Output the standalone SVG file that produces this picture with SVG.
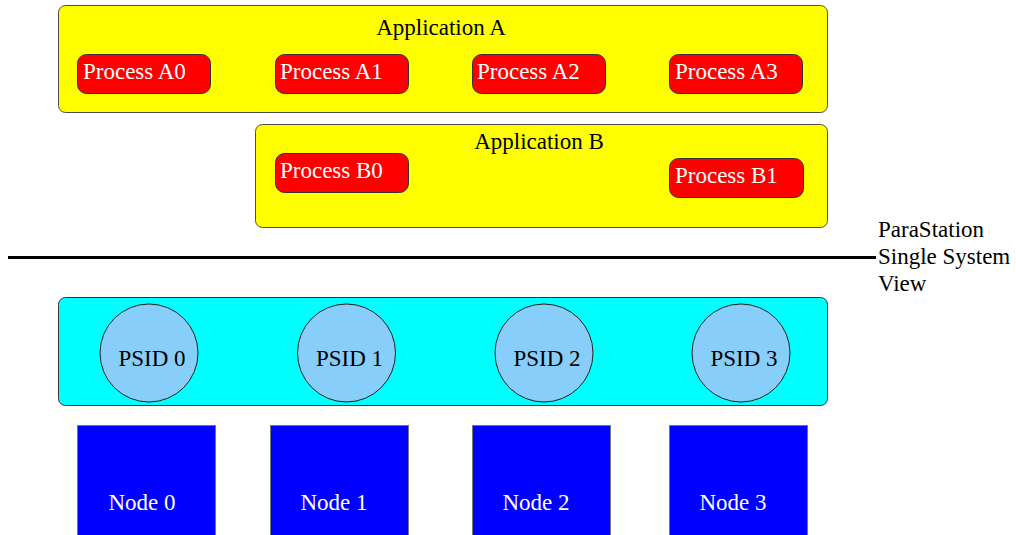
<svg xmlns="http://www.w3.org/2000/svg" width="1016" height="535" viewBox="0 0 1016 535">
<style>
text { font-family: "Liberation Serif", "Times New Roman", serif; font-size: 23px; }
.app { fill: #ffff00; stroke: #4d4d4d; stroke-width: 1; }
.proc { fill: #ff0000; stroke: #333333; stroke-width: 1; }
.proct { fill: #ffffff; }
.daemon { fill: #00ffff; stroke: #333333; stroke-width: 1; }
.psid { fill: #87cefa; stroke: #222222; stroke-width: 1; }
.node { fill: #0000ff; stroke: #777777; stroke-width: 1; }
.nodet { fill: #ffffff; text-anchor: middle; }
.mid { text-anchor: middle; fill: #000000; }
</style>
<g id="appA">
  <rect class="app" x="58.5" y="5.5" width="769" height="107" rx="7"/>
  <text class="mid" x="441" y="35">Application A</text>
</g>
<g id="procA0"><rect class="proc" x="77.5" y="54.5" width="133" height="39" rx="9"/><text class="proct" x="83" y="79">Process A0</text></g>
<g id="procA1"><rect class="proc" x="275.5" y="54.5" width="133" height="39" rx="9"/><text class="proct" x="280" y="79">Process A1</text></g>
<g id="procA2"><rect class="proc" x="472.5" y="54.5" width="133" height="39" rx="9"/><text class="proct" x="477" y="79">Process A2</text></g>
<g id="procA3"><rect class="proc" x="669.5" y="54.5" width="133" height="39" rx="9"/><text class="proct" x="675" y="79">Process A3</text></g>
<g id="appB">
  <rect class="app" x="255.5" y="124.5" width="572" height="103" rx="7"/>
  <text class="mid" x="539" y="149">Application B</text>
</g>
<g id="procB0"><rect class="proc" x="275.5" y="153.5" width="133" height="39" rx="9"/><text class="proct" x="280" y="178">Process B0</text></g>
<g id="procB1"><rect class="proc" x="669.5" y="158.5" width="134" height="39" rx="9"/><text class="proct" x="675" y="183">Process B1</text></g>
<g id="connectors">
  <line x1="8" y1="257.5" x2="876" y2="257.5" stroke="#000000" stroke-width="3"/>
</g>
<g id="ssvLabel">
  <text x="878" y="237">ParaStation</text>
  <text x="878" y="264">Single System</text>
  <text x="878" y="291">View</text>
</g>
<g id="daemons">
  <rect class="daemon" x="58.5" y="297.5" width="769" height="108" rx="7"/>
</g>
<g id="psid0"><circle class="psid" cx="149" cy="353" r="49"/><text class="mid" x="152" y="366">PSID 0</text></g>
<g id="psid1"><circle class="psid" cx="346.5" cy="353" r="49"/><text class="mid" x="349.5" y="366">PSID 1</text></g>
<g id="psid2"><circle class="psid" cx="544" cy="353" r="49"/><text class="mid" x="547" y="366">PSID 2</text></g>
<g id="psid3"><circle class="psid" cx="741" cy="353" r="49"/><text class="mid" x="744" y="366">PSID 3</text></g>
<g id="node0"><rect class="node" x="77.5" y="425.5" width="138" height="115"/><text class="nodet" x="142" y="510">Node 0</text></g>
<g id="node1"><rect class="node" x="270.5" y="425.5" width="138" height="115"/><text class="nodet" x="334" y="510">Node 1</text></g>
<g id="node2"><rect class="node" x="472.5" y="425.5" width="138" height="115"/><text class="nodet" x="536" y="510">Node 2</text></g>
<g id="node3"><rect class="node" x="669.5" y="425.5" width="138" height="115"/><text class="nodet" x="733" y="510">Node 3</text></g>
</svg>
